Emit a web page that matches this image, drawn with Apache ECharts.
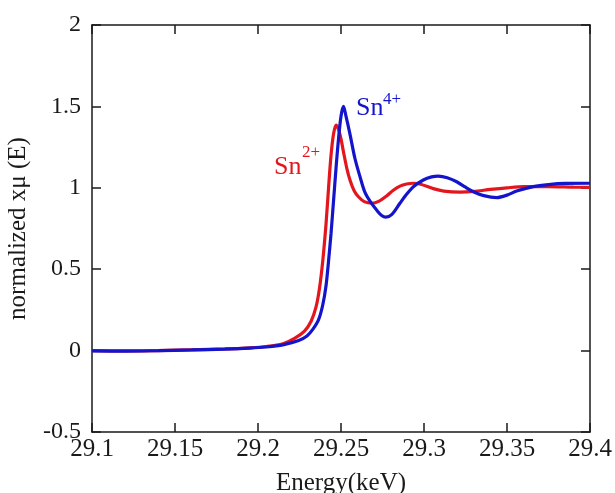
<!DOCTYPE html>
<html>
<head>
<meta charset="utf-8">
<script src="https://cdn.jsdelivr.net/npm/echarts@6/dist/echarts.min.js"></script>
<style>
html,body{margin:0;padding:0;background:#fff;}
#chart{width:615px;height:493px;}
</style>
</head>
<body>
<div id="chart"></div>
<script>
// Sn2+ reference spectrum: [energy keV, normalized xμ]
const sn2Data = [
  [29.100, 0.000], [29.120, -0.002], [29.140, 0.000], [29.160, 0.005], [29.180, 0.010],
  [29.195, 0.017], [29.205, 0.025], [29.215, 0.042], [29.222, 0.075], [29.228, 0.12],
  [29.232, 0.18], [29.235, 0.27], [29.237, 0.38], [29.239, 0.55], [29.241, 0.78],
  [29.2425, 1.00], [29.244, 1.20], [29.2455, 1.33], [29.247, 1.385], [29.2485, 1.36],
  [29.250, 1.30], [29.2515, 1.22], [29.2535, 1.12], [29.2555, 1.045], [29.258, 0.98],
  [29.2605, 0.945], [29.264, 0.915], [29.2685, 0.905], [29.273, 0.918], [29.2775, 0.95],
  [29.2815, 0.985], [29.2855, 1.01], [29.2895, 1.023], [29.2936, 1.028], [29.298, 1.022],
  [29.3056, 0.995], [29.312, 0.98], [29.3217, 0.974], [29.330, 0.978], [29.340, 0.99],
  [29.350, 1.0], [29.360, 1.007], [29.375, 1.007], [29.390, 1.004], [29.400, 1.003]
];
// Sn4+ reference spectrum
const sn4Data = [
  [29.100, -0.002], [29.120, -0.003], [29.140, 0.000], [29.160, 0.004], [29.180, 0.009],
  [29.195, 0.015], [29.205, 0.022], [29.215, 0.035], [29.2245, 0.062], [29.2295, 0.09],
  [29.233, 0.13], [29.2365, 0.19], [29.239, 0.28], [29.241, 0.40], [29.2425, 0.55],
  [29.244, 0.72], [29.2455, 0.92], [29.247, 1.12], [29.2485, 1.30], [29.250, 1.44],
  [29.2515, 1.50], [29.253, 1.44], [29.2554, 1.33], [29.2584, 1.18], [29.2614, 1.07],
  [29.2645, 0.97], [29.268, 0.91], [29.2717, 0.86], [29.2745, 0.83],
  [29.277, 0.82], [29.2805, 0.835], [29.2855, 0.905], [29.2895, 0.96], [29.2936, 1.007],
  [29.2996, 1.048], [29.3046, 1.067], [29.3086, 1.072], [29.314, 1.062], [29.3197, 1.037],
  [29.3247, 1.005], [29.3297, 0.976], [29.336, 0.952], [29.3438, 0.94], [29.350, 0.955],
  [29.3558, 0.98], [29.3658, 1.007], [29.375, 1.02], [29.385, 1.027], [29.400, 1.028]
];
const xTickLabels = ['29.1', '29.15', '29.2', '29.25', '29.3', '29.35', '29.4'];
const yTickLabels = ['-0.5', '0', '0.5', '1', '1.5', '2'];
const xTitle = 'Energy(keV)';
const yTitle = 'normalized xμ (E)';

const FONT = '"Liberation Serif", "Times New Roman", serif';
const RED = '#e3161e';
const BLUE = '#1414cc';
const INK = '#1a1a1a';

const chart = echarts.init(document.getElementById('chart'), null, {renderer: 'canvas'});

const baseAxisLine = {show: true, onZero: false, lineStyle: {color: INK, width: 1.5}};
const baseTick = {show: true, inside: true, length: 9, lineStyle: {color: INK, width: 1.5}};

chart.setOption({
  animation: false,
  backgroundColor: '#fff',
  grid: {left: 92, right: 25, top: 25, bottom: 61, containLabel: false, outerBoundsMode: 'none'},
  xAxis: [{
    type: 'value', min: 29.1, max: 29.4, interval: 0.05,
    axisLine: baseAxisLine, axisTick: baseTick, splitLine: {show: false},
    axisLabel: {
      margin: 5, fontFamily: FONT, fontSize: 25, color: INK,
      formatter: function (v) {
        const i = Math.round((v - 29.1) / 0.05);
        return xTickLabels[i] !== undefined ? xTickLabels[i] : '';
      }
    },
    name: xTitle, nameLocation: 'middle', nameGap: 39,
    nameTextStyle: {fontFamily: FONT, fontSize: 25, color: INK}
  }, {
    type: 'value', position: 'top', min: 29.1, max: 29.4, interval: 0.05,
    axisLine: baseAxisLine, axisTick: baseTick, splitLine: {show: false},
    axisLabel: {show: false}
  }],
  yAxis: [{
    type: 'value', min: -0.5, max: 2, interval: 0.5,
    axisLine: baseAxisLine, axisTick: baseTick, splitLine: {show: false},
    axisLabel: {
      margin: 11, fontFamily: FONT, fontSize: 24, color: INK,
      formatter: function (v) {
        const i = Math.round((v + 0.5) / 0.5);
        return yTickLabels[i] !== undefined ? yTickLabels[i] : '';
      }
    },
    name: yTitle, nameLocation: 'middle', nameGap: 61, nameRotate: 90,
    nameTextStyle: {fontFamily: FONT, fontSize: 25, color: INK}
  }, {
    type: 'value', position: 'right', min: -0.5, max: 2, interval: 0.5,
    axisLine: baseAxisLine, axisTick: baseTick, splitLine: {show: false},
    axisLabel: {show: false}
  }],
  series: [{
    name: 'Sn2+', type: 'line', data: sn2Data, showSymbol: false, smooth: 0.3,
    xAxisIndex: 0, yAxisIndex: 0,
    lineStyle: {color: RED, width: 3.2}, itemStyle: {color: RED}, z: 2
  }, {
    name: 'Sn4+', type: 'line', data: sn4Data, showSymbol: false, smooth: 0.3,
    xAxisIndex: 0, yAxisIndex: 0,
    lineStyle: {color: BLUE, width: 3.2}, itemStyle: {color: BLUE}, z: 3
  }],
  graphic: [
    {type: 'text', left: 274, top: 154, style: {text: 'Sn', font: '26px ' + FONT, fill: RED}},
    {type: 'text', left: 302, top: 144, style: {text: '2+', font: '17px ' + FONT, fill: RED}},
    {type: 'text', left: 356, top: 95, style: {text: 'Sn', font: '26px ' + FONT, fill: BLUE}},
    {type: 'text', left: 383, top: 91, style: {text: '4+', font: '17px ' + FONT, fill: BLUE}}
  ]
});
</script>
</body>
</html>
